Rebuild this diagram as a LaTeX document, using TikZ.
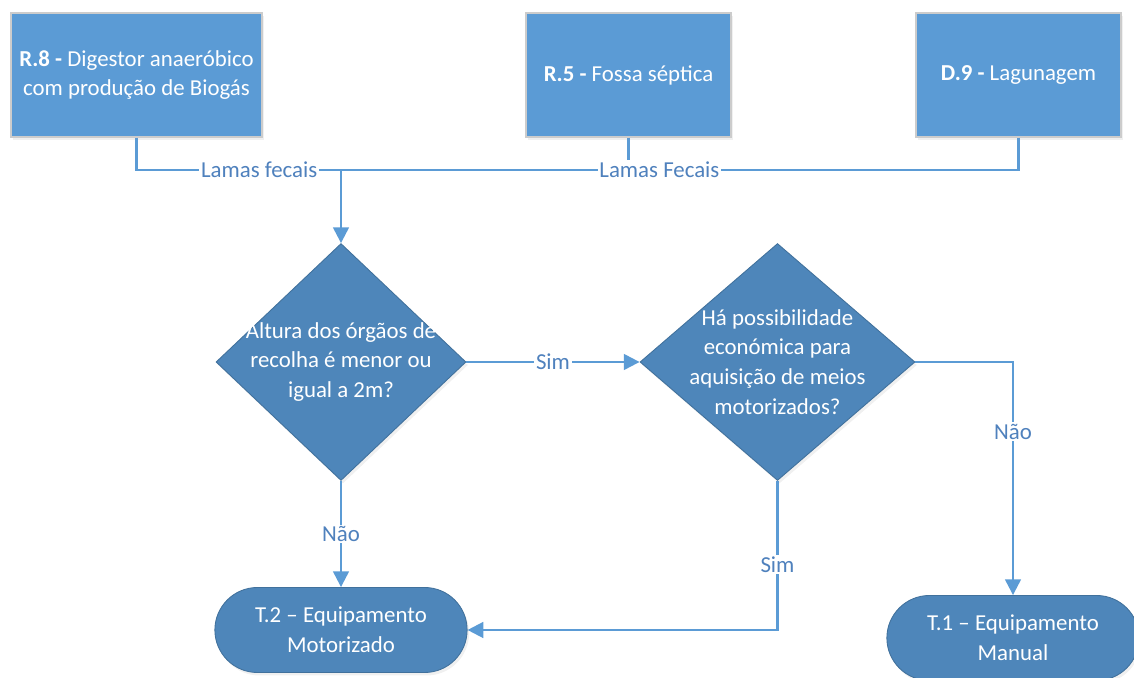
\documentclass[tikz,border=0pt]{standalone}
\usepackage{fontspec}
\setmainfont{Carlito}
\usetikzlibrary{shapes.geometric,shapes.misc,arrows.meta,shadows}
\definecolor{boxblue}{HTML}{5B9BD5}
\definecolor{darkblue}{HTML}{4E86BA}
\definecolor{rimblue}{HTML}{41719C}
\definecolor{textblue}{HTML}{4F81BD}
\tikzset{
  txt/.style={font=\fontsize{13}{17}\selectfont},
  box/.style={txt, rectangle, fill=boxblue, draw=black!20, line width=0.8pt, text=white, align=center,
    minimum width=4.1cm, minimum height=2.48cm,
    drop shadow={opacity=0.12, shadow xshift=0.4mm, shadow yshift=-0.6mm}},
  decision/.style={diamond, fill=darkblue, draw=rimblue, line width=0.5pt, inner sep=0pt,
    drop shadow={opacity=0.12, shadow xshift=0.4mm, shadow yshift=-0.6mm}},
  dtext/.style={txt, text=white, align=center},
  terminal/.style={txt, rounded rectangle, fill=darkblue, draw=rimblue, line width=0.5pt, text=white,
    align=center, minimum width=5.28cm, minimum height=1.7cm,
    drop shadow={opacity=0.12, shadow xshift=0.4mm, shadow yshift=-0.6mm}},
  flow/.style={draw=boxblue, line width=1.3pt},
  arrow/.style={flow, -{Triangle[length=9pt,width=9pt]}},
  lbl/.style={txt, text=textblue, fill=white, inner sep=1pt}
}
\begin{document}
\begin{tikzpicture}[x=0.02cm,y=-0.02cm]
  \useasboundingbox (0,0) rectangle (1134,678);
  \node[box, minimum width=5.02cm] (r8) at (136.5,75) {\textbf{R.8 -} Digestor anaeróbico\\com produção de Biogás};
  \node[box] (r5) at (628.5,75) {\textbf{R.5 -} Fossa séptica};
  \node[box] (d9) at (1018.5,75) {\textbf{D.9 -} Lagunagem};
  \node[decision, minimum width=5.0cm, minimum height=4.74cm,
    label={[dtext]center:Altura dos órgãos de\\recolha é menor ou\\igual a 2m?}] (q1) at (341,362) {};
  \node[decision, minimum width=5.5cm, minimum height=4.74cm,
    label={[dtext]center:Há possibilidade\\económica para\\aquisição de meios\\motorizados?}] (q2) at (777.5,362) {};
  \node[terminal] (t2) at (341,630) {T.2 – Equipamento\\Motorizado};
  \node[terminal] (t1) at (1013,638) {T.1 – Equipamento\\Manual};
  \coordinate (join) at (341,170);
  \draw[flow] (r5.south) -- (r5.south |- join);
  \draw[flow] (r8.south) |- node[lbl, pos=0.8] {Lamas fecais} (join);
  \draw[flow] (d9.south) |- node[lbl, pos=0.765] {Lamas Fecais} (join);
  \draw[arrow] (join) -- (q1.north);
  \draw[arrow] (q1.east) -- node[lbl] {Sim} (q2.west);
  \draw[arrow] (q1.south) -- node[lbl] {Não} (t2.north);
  \draw[arrow] (q2.south) |- node[lbl, pos=0.28] {Sim} (t2.east);
  \draw[arrow] (q2.east) -| node[lbl, pos=0.65] {Não} (t1.north);
\end{tikzpicture}
\end{document}
